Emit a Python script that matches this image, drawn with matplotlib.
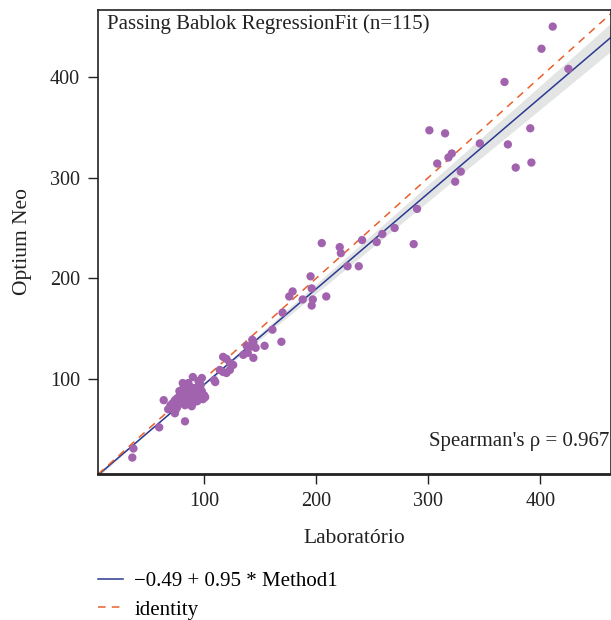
import numpy as np
import matplotlib
matplotlib.use("Agg")
import matplotlib.pyplot as plt

plt.rcParams['font.family'] = ['Liberation Serif', 'DejaVu Serif']

# Laboratório (x) vs Optium Neo (y)
lab = [411, 401, 425, 368, 391, 301, 315, 346, 371, 321, 318, 308, 392, 378,
       329, 324, 290, 270, 259, 287, 205, 221, 222, 241, 254, 228, 238, 195,
       196, 179, 176, 188, 197, 209, 196, 170, 161, 169, 154,
       143, 144, 141, 139, 144, 135, 146, 138,
       117, 120, 126, 123, 117, 114, 123, 120,
       110, 109, 98, 95, 96, 90, 81, 80, 64, 72, 74, 83, 60, 37, 36,
       72, 74, 76, 78, 79, 80, 81, 82, 83, 84, 85, 85, 86, 87, 88, 88,
       89, 90, 90, 91, 92, 93, 94, 95, 96, 97, 98, 100, 101, 86, 84, 82,
       78, 76, 80, 83, 87, 91, 94, 99, 70, 68, 75, 89, 92, 95, 97, 85]
neo = [450, 428, 408, 395, 349, 347, 344, 334, 333, 324, 320, 314, 315, 310,
       306, 296, 269, 250, 244, 234, 235, 231, 225, 238, 236, 212, 212, 202,
       190, 187, 182, 179, 179, 182, 173, 166, 149, 137, 133,
       139, 136, 132, 126, 121, 124, 131, 133,
       122, 120, 114, 109, 107, 109, 116, 106,
       97, 99, 101, 98, 96, 102, 96, 89, 79, 72, 66, 58, 52, 31, 22,
       76, 79, 81, 78, 84, 82, 86, 80, 88, 83, 90, 78, 84, 81, 86, 92,
       79, 83, 88, 85, 81, 87, 84, 80, 86, 83, 88, 84, 82, 96, 93, 90,
       88, 72, 76, 74, 76, 77, 78, 80, 74, 70, 70, 73, 91, 92, 94, 87]

intercept, slope = -0.49, 0.95
ci_intercept = (-2.5, 2.0)
ci_slope = (0.915, 0.985)

x_lim = (5.4, 463)
y_lim = (5.7, 466.5)

c_point = '#a263ae'
c_fit = '#2a3990'
c_id = '#e8602c'
c_band = '#e3e5e5'
c_text = '#222222'

fig = plt.figure(figsize=(6.11, 6.20), dpi=100)
ax = fig.add_axes([0.1604, 0.2355, 0.8396, 0.7484])

xs = np.linspace(x_lim[0], x_lim[1], 200)
l1 = ci_intercept[0] + ci_slope[1] * xs
l2 = ci_intercept[1] + ci_slope[0] * xs
ax.fill_between(xs, np.minimum(l1, l2), np.maximum(l1, l2), color=c_band, lw=0, zorder=1)
fit_line, = ax.plot(xs, intercept + slope * xs, color=c_fit, lw=1.1, zorder=2,
                    label='\u22120.49 + 0.95 * Method1')
id_line, = ax.plot(xs, xs, color=c_id, lw=1.1, ls=(0, (5, 4)), zorder=2, label='identity')
ax.scatter(lab, neo, s=36, color=c_point, edgecolors='none', zorder=3)

ax.set_xlim(*x_lim)
ax.set_ylim(*y_lim)
ax.set_xticks([100, 200, 300, 400])
ax.set_yticks([100, 200, 300, 400])
ax.tick_params(direction='out', length=7, width=1, labelsize=14.5, colors=c_text, pad=6)
for s in ax.spines.values():
    s.set_color(c_text)
    s.set_linewidth(1.2)
ax.spines['bottom'].set_linewidth(2)

ax.set_xlabel('Laboratório', fontsize=15.5, color=c_text, labelpad=13)
ax.set_ylabel('Optium Neo', fontsize=15.5, color=c_text, labelpad=13)

ax.text(0.017, 0.99, 'Passing Bablok RegressionFit (n=115)', transform=ax.transAxes,
        ha='left', va='top', fontsize=15, color=c_text)
ax.text(0.997, 0.069, "Spearman's \u03c1 = 0.967", transform=ax.transAxes,
        ha='right', va='center', fontsize=15, color=c_text)

fig.legend(handles=[fit_line, id_line], loc='upper left', bbox_to_anchor=(0.160, 0.078),
           frameon=False, fontsize=15, handlelength=1.2, handletextpad=0.55,
           labelspacing=0.42, borderaxespad=0, borderpad=0)

fig.savefig('out.png', dpi=100)
